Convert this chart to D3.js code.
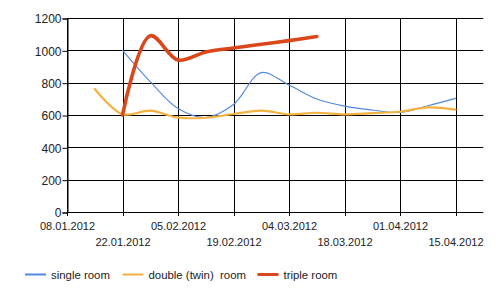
<!DOCTYPE html>
<html><head><meta charset="utf-8">
<script src="https://cdn.jsdelivr.net/npm/d3@7"></script>
<style>
html,body{margin:0;padding:0;background:#fff;}
svg{display:block;}
text{font-family:"Liberation Sans",Arial,sans-serif;fill:#222;}
</style></head>
<body>
<svg id="chart" width="500" height="296"></svg>
<script>
// ---- data ----
const dates = ["15.01.2012","22.01.2012","29.01.2012","05.02.2012","12.02.2012","19.02.2012","26.02.2012",
               "04.03.2012","11.03.2012","18.03.2012","25.03.2012","01.04.2012","08.04.2012","15.04.2012"];
const singleRoom = [null, 1000, 806, 640, 585, 665, 862, 785, 699, 655, 631, 616, 657, 703];
const doubleRoom = [761, 605, 627, 584, 583, 606, 627, 604, 614, 604, 612, 620, 647, 633];
const tripleRoom = [null, 600, 1090, 940, 990, 1015, 1038, 1060, 1085, null, null, null, null, null];
const tickLabels = ["08.01.2012","22.01.2012","05.02.2012","19.02.2012","04.03.2012","18.03.2012","01.04.2012","15.04.2012"];
const domainEnd = "22.04.2012";
const yTicks = [0, 200, 400, 600, 800, 1000, 1200];
const seriesNames = ["single room", "double (twin)  room", "triple room"];
const seriesColors = ["#5289e0", "#f5b13f", "#d9471b"];
const seriesWidths = [1.1, 2.2, 3.6];

(function () {
const parse = d3.utcParse("%d.%m.%Y");
const svg = d3.select("#chart");
const pL = 67, pR = 483.3, pT = 18, pB = 212;

const x = d3.scaleUtc().domain([parse(tickLabels[0]), parse(domainEnd)]).range([pL, pR]);
const y = d3.scaleLinear().domain([0, 1200]).range([pB, pT]);

// horizontal grid
svg.append("g").selectAll("line").data(yTicks).join("line")
  .attr("x1", pL).attr("x2", pR)
  .attr("y1", d => Math.round(y(d)) + 0.5).attr("y2", d => Math.round(y(d)) + 0.5)
  .attr("stroke", "#000").attr("stroke-width", 1);

// vertical grid
svg.append("g").selectAll("line").data(tickLabels).join("line")
  .attr("x1", d => Math.round(x(parse(d))) + 0.5).attr("x2", d => Math.round(x(parse(d))) + 0.5)
  .attr("y1", pT).attr("y2", pB + 4)
  .attr("stroke", "#000").attr("stroke-width", 1);

// y axis
const yAxis = svg.append("g").attr("transform", `translate(${pL + 0.5},0.5)`)
  .call(d3.axisLeft(y).tickValues(yTicks).tickSize(5).tickPadding(1).tickFormat(d3.format("d")));
yAxis.select(".domain").attr("stroke", "#000");
yAxis.selectAll(".tick line").attr("stroke", "#000");
yAxis.selectAll("text").attr("font-size", 12).attr("fill", "#222")
  .attr("font-family", "'Liberation Sans',Arial,sans-serif").attr("dy", "0.35em");

// x axis labels (alternating rows)
svg.append("g").selectAll("text").data(tickLabels).join("text")
  .attr("x", d => x(parse(d)) + 0.5)
  .attr("y", (d, i) => i % 2 === 0 ? 229.5 : 245.5)
  .attr("text-anchor", "middle").attr("font-size", 11)
  .text(d => d);

// lines
const allSeries = [singleRoom, doubleRoom, tripleRoom];
const line = d3.line()
  .defined(d => d.v != null)
  .x(d => x(d.date)).y(d => y(d.v))
  .curve(d3.curveCatmullRom.alpha(0.5));

allSeries.forEach((vals, k) => {
  const data = dates.map((d, i) => ({date: parse(d), v: vals[i]}));
  svg.append("path").datum(data)
    .attr("d", line)
    .attr("fill", "none")
    .attr("stroke", seriesColors[k])
    .attr("stroke-width", seriesWidths[k])
    .attr("stroke-linejoin", "round").attr("stroke-linecap", "round");
});

// legend
const legendX = [25, 122.5, 257.5];
const lg = svg.append("g");
seriesNames.forEach((name, k) => {
  lg.append("line")
    .attr("x1", legendX[k]).attr("x2", legendX[k] + 21)
    .attr("y1", 274.5).attr("y2", 274.5)
    .attr("stroke", seriesColors[k]).attr("stroke-width", k === 2 ? 3 : 2);
  lg.append("text")
    .attr("x", legendX[k] + 26).attr("y", 278.5)
    .attr("font-size", 11.4)
    .style("white-space", "pre")
    .text(name);
});
})();
</script>
</body></html>
